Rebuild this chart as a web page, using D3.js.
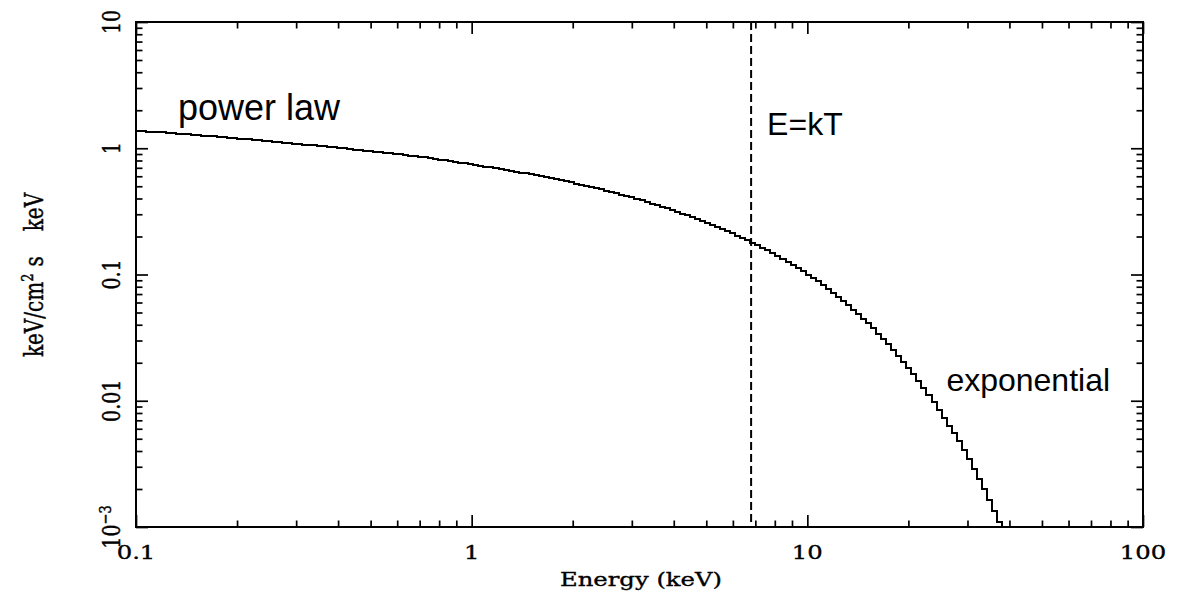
<!DOCTYPE html>
<html>
<head>
<meta charset="utf-8">
<script src="https://cdn.jsdelivr.net/npm/d3@7"></script>
<style>
  html, body { margin: 0; padding: 0; background: #fff; }
  svg { display: block; }
  .plotfont { stroke: #000; stroke-width: 0.35px; }
</style>
</head>
<body>
<svg id="chart" width="1187" height="595"></svg>
<script>
// Cutoff power-law model spectrum, E F(E) in keV/cm^2 s keV, binned on a
// logarithmic energy grid that starts at E_MIN with bins BIN_DEX decades wide.
const E_MIN = 0.1;
const BIN_DEX = 0.015;
const FLUX = [
  1.3714, 1.3639, 1.3567, 1.3496, 1.3428, 1.3341, 1.3249, 1.3157, 1.3065, 1.2970,
  1.2870, 1.2773, 1.2677, 1.2582, 1.2489, 1.2394, 1.2302, 1.2207, 1.2115, 1.2021,
  1.1928, 1.1837, 1.1744, 1.1649, 1.1551, 1.1456, 1.1361, 1.1267, 1.1170, 1.1076,
  1.0983, 1.0889, 1.0796, 1.0703, 1.0610, 1.0515, 1.0423, 1.0330, 1.0238, 1.0144,
  1.0051, 0.9960, 0.9868, 0.9774, 0.9682, 0.9591, 0.9499, 0.9405, 0.9314, 0.9222,
  0.9131, 0.9037, 0.8945, 0.8850, 0.8754, 0.8660, 0.8564, 0.8468, 0.8355, 0.8244,
  0.8133, 0.8025, 0.7916, 0.7808, 0.7700, 0.7589, 0.7478, 0.7366, 0.7257, 0.7152,
  0.7047, 0.6942, 0.6839, 0.6733, 0.6628, 0.6523, 0.6418, 0.6314, 0.6209, 0.6104,
  0.5999, 0.5895, 0.5792, 0.5686, 0.5581, 0.5472, 0.5366, 0.5257, 0.5150, 0.5041,
  0.4934, 0.4826, 0.4718, 0.4611, 0.4505, 0.4399, 0.4292, 0.4183, 0.4074, 0.3968,
  0.3861, 0.3754, 0.3650, 0.3544, 0.3441, 0.3338, 0.3235, 0.3134, 0.3033, 0.2936,
  0.2838, 0.2742, 0.2646, 0.2552, 0.2460, 0.2373, 0.2286, 0.2199, 0.2114, 0.2030,
  0.1947, 0.1865, 0.1785, 0.1706, 0.1628, 0.1552, 0.1477, 0.1403, 0.1332, 0.1262,
  0.1193, 0.1127, 0.1063, 0.1000, 0.09393, 0.08806, 0.08239, 0.07693, 0.07168, 0.06664,
  0.06182, 0.05721, 0.05281, 0.04864, 0.04467, 0.04092, 0.03737, 0.03403, 0.03091, 0.02798,
  0.02524, 0.02270, 0.02035, 0.01817, 0.01617, 0.01433, 0.01265, 0.01112, 0.009739, 0.008490,
  0.007367, 0.006363, 0.005512, 0.004763, 0.004091, 0.003461, 0.002902, 0.002414, 0.001997, 0.001643,
  0.001340, 0.001092, 0.000884
];
const KT = 6.8;   // cutoff energy, keV

// Axis ticks and their labels
const X_MAJOR = [0.1, 1, 10, 100];
const X_LABELS = ["0.1", "1", "10", "100"];
const Y_MAJOR = [0.001, 0.01, 0.1, 1, 10];
const Y_LABELS = [["10", "\u22123"], ["0.01"], ["0.1"], ["1"], ["10"]];

const X_TITLE = "Energy (keV)";
const NOTES = [
  { text: "power law",   e: 0.1,  size: 36 },
  { text: "E=kT",        e: KT,   size: 32 },
  { text: "exponential", e: 20,   size: 32 }
];

// ---- layout ----
const svg = d3.select("#chart");
const L = 136, R = 1143, T = 22, B = 527;
const SX = 1.28;                 // horizontal stretch of the plot font
const SERIF = "'DejaVu Serif', serif";

const x = d3.scaleLog().domain([0.1, 100]).range([L, R]);
const y = d3.scaleLog().domain([0.001, 10]).range([B, T]);

function minors(lo, hi) {
  const out = [];
  for (let d = lo; d < hi * 0.999; d *= 10)
    for (let k = 2; k <= 9; k++) out.push(+(d * k).toPrecision(4));
  return out;
}

// ---- spectrum (histogram steps) ----
svg.append("defs").append("clipPath").attr("id", "plotClip")
  .append("rect").attr("x", L).attr("y", T).attr("width", R - L).attr("height", B - T);

const edges = d3.range(FLUX.length + 1).map(i => E_MIN * Math.pow(10, i * BIN_DEX));
const steps = FLUX.map((f, i) => [edges[i], f]);
steps.push([edges[FLUX.length], FLUX[FLUX.length - 1]]);

const stepLine = d3.line()
  .x(d => x(d[0]))
  .y(d => y(d[1]))
  .curve(d3.curveStepAfter);

svg.append("path")
  .datum(steps)
  .attr("clip-path", "url(#plotClip)")
  .attr("d", stepLine)
  .attr("fill", "none")
  .attr("stroke", "#000")
  .attr("stroke-width", 2)
  .attr("shape-rendering", "crispEdges");

// ---- E = kT marker ----
svg.append("line")
  .attr("x1", x(KT)).attr("x2", x(KT))
  .attr("y1", T).attr("y2", B)
  .attr("stroke", "#000")
  .attr("stroke-width", 2)
  .attr("stroke-dasharray", "8,4");

// ---- inward ticks on all four sides ----
function tickGroup(axis, tx, ty, values, size) {
  const g = svg.append("g")
    .attr("transform", `translate(${tx},${ty})`)
    .call(axis.tickValues(values).tickSize(size).tickSizeOuter(0).tickFormat(""));
  g.select(".domain").remove();
  g.selectAll(".tick line").attr("stroke", "#000").attr("stroke-width", 1.7);
}
const xMinor = minors(0.1, 100);
const yMinor = minors(0.001, 10);
tickGroup(d3.axisTop(x),    0, B, X_MAJOR, 12);
tickGroup(d3.axisTop(x),    0, B, xMinor, 6.5);
tickGroup(d3.axisBottom(x), 0, T, X_MAJOR, 12);
tickGroup(d3.axisBottom(x), 0, T, xMinor, 6.5);
tickGroup(d3.axisRight(y),  L, 0, Y_MAJOR, 12);
tickGroup(d3.axisRight(y),  L, 0, yMinor, 6.5);
tickGroup(d3.axisLeft(y),   R, 0, Y_MAJOR, 12);
tickGroup(d3.axisLeft(y),   R, 0, yMinor, 6.5);

// ---- frame ----
svg.append("rect")
  .attr("x", L).attr("y", T).attr("width", R - L).attr("height", B - T)
  .attr("fill", "none").attr("stroke", "#000").attr("stroke-width", 2);

// ---- tick labels ----
X_MAJOR.forEach((v, i) => {
  svg.append("text")
    .attr("class", "plotfont")
    .attr("transform", `translate(${x(v)},559) scale(${SX},1)`)
    .attr("text-anchor", "middle")
    .attr("font-family", SERIF)
    .attr("font-size", 19)
    .attr("fill", "#000")
    .text(X_LABELS[i]);
});

Y_MAJOR.forEach((v, i) => {
  const t = svg.append("text")
    .attr("class", "plotfont")
    .attr("transform", `translate(120,${y(v)}) scale(${SX},1) rotate(-90)`)
    .attr("text-anchor", "middle")
    .attr("font-family", SERIF)
    .attr("font-size", 19)
    .attr("fill", "#000");
  const parts = Y_LABELS[i];
  t.append("tspan").text(parts[0]);
  if (parts.length > 1) {
    t.append("tspan").attr("dy", -7).attr("font-size", 13).text(parts[1]);
  }
});

// ---- axis titles ----
svg.append("text")
  .attr("class", "plotfont")
  .attr("transform", `translate(641,586) scale(${SX},1)`)
  .attr("text-anchor", "middle")
  .attr("font-family", SERIF)
  .attr("font-size", 19)
  .attr("fill", "#000")
  .text(X_TITLE);

const yt = svg.append("text")
  .attr("class", "plotfont")
  .attr("transform", `translate(43,275) scale(${SX},1) rotate(-90)`)
  .attr("text-anchor", "middle")
  .attr("font-family", SERIF)
  .attr("font-size", 20)
  .attr("fill", "#000");
yt.append("tspan").text("keV/cm");
yt.append("tspan").attr("dy", -8).attr("font-size", 13).text("2");
yt.append("tspan").attr("dy", 8).attr("dx", 7).text("s");
yt.append("tspan").attr("dx", 25).text("keV");

// ---- annotations ----
const notePos = [
  { dx: 42,  baseline: 120 },
  { dx: 16,  baseline: 135 },
  { dx: 38,  baseline: 391 }
];
NOTES.forEach((n, i) => {
  svg.append("text")
    .attr("x", x(n.e) + notePos[i].dx)
    .attr("y", notePos[i].baseline)
    .attr("font-family", "'Liberation Sans', Arial, sans-serif")
    .attr("font-size", n.size)
    .attr("fill", "#000")
    .text(n.text);
});
</script>
</body>
</html>
